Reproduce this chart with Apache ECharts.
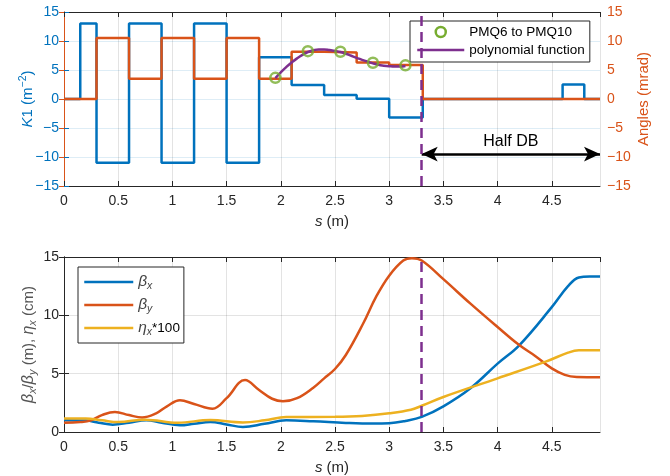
<!doctype html>
<html><head><meta charset="utf-8" />
<style>html,body,#app{margin:0;padding:0;width:670px;height:476px;background:#fff}</style>
</head><body><div id="app"></div>
<script src="https://cdn.jsdelivr.net/npm/echarts@6/dist/echarts.min.js"></script>
<script>
// s range of both panels (m)
const sMax = 4.945;

// top panel: quadrupole strengths K1 (stairs, value holds from edge i to edge i+1)
const k1Edges  = [0, 0.15, 0.3, 0.6, 0.9, 1.2, 1.5, 1.8, 2.1, 2.4, 2.7, 3.0, 3.31, 4.6, 4.8, sMax];
const k1Values = [0, 13, -11, 13, -11, 13, -11, 7.2, 2.4, 0.7, 0.05, -3.2, 0, 2.5, 0];

// top panel: bending angles (mrad, stairs)
const angEdges  = [0, 0.3, 0.6, 0.9, 1.2, 1.5, 1.8, 2.1, 2.4, 2.7, 3.0, 3.31, sMax];
const angValues = [0, 10.5, 3.5, 10.5, 3.5, 10.5, 3.5, 8.15, 8.0, 6.3, 5.85, 0];

// PMQ6..PMQ10 markers
const pmqS = [1.95, 2.25, 2.55, 2.85, 3.15];
const pmqAngles = [3.65, 8.25, 8.15, 6.25, 5.8];

// polynomial fit
const polyS = [1.95, 2.0, 2.05, 2.1, 2.15, 2.2, 2.25, 2.3, 2.35, 2.4, 2.45, 2.5, 2.55, 2.6, 2.65, 2.7, 2.75, 2.8, 2.85, 2.9, 2.95, 3.0, 3.05, 3.1, 3.15];
const polyV = [3.6, 4.6, 5.5, 6.3, 7.0, 7.6, 8.1, 8.4, 8.55, 8.55, 8.45, 8.3, 8.1, 7.8, 7.45, 7.1, 6.75, 6.45, 6.15, 5.9, 5.75, 5.65, 5.6, 5.6, 5.7];

// bottom panel: optics
const bxS = [0, 0.2, 0.32, 0.45, 0.6, 0.76, 0.9, 1.07, 1.2, 1.35, 1.5, 1.65, 1.85, 2.05, 2.3, 2.6, 2.85, 3.0, 3.15, 3.3, 3.5, 3.75, 4.0, 4.2, 4.5, 4.65, 4.75, 4.85, sMax];
const bxV = [1.0, 0.98, 0.8, 0.63, 0.8, 1.0, 0.8, 0.57, 0.7, 0.86, 0.65, 0.43, 0.7, 1.0, 0.92, 0.78, 0.72, 0.75, 0.95, 1.29, 2.2, 3.75, 5.86, 7.43, 10.7, 12.5, 13.25, 13.33, 13.33];

const byS = [0, 0.15, 0.25, 0.35, 0.47, 0.6, 0.72, 0.85, 0.95, 1.07, 1.2, 1.37, 1.5, 1.67, 1.8, 1.92, 2.02, 2.15, 2.3, 2.4, 2.5, 2.6, 2.76, 2.88, 3.0, 3.13, 3.21, 3.3, 3.5, 3.75, 4.0, 4.2, 4.35, 4.5, 4.62, 4.73, sMax];
const byV = [0.8, 0.85, 1.0, 1.45, 1.72, 1.45, 1.25, 1.6, 2.2, 2.72, 2.4, 2.0, 2.9, 4.45, 3.6, 2.85, 2.63, 2.9, 3.8, 4.6, 5.4, 6.6, 9.3, 11.6, 13.4, 14.7, 14.9, 14.7, 13.1, 11.0, 9.0, 7.45, 6.5, 5.45, 4.9, 4.72, 4.7];

const etaS = [0, 0.2, 0.35, 0.5, 0.75, 1.05, 1.35, 1.65, 1.85, 2.05, 2.5, 2.75, 3.0, 3.2, 3.3, 3.5, 4.0, 4.45, 4.65, 4.75, sMax];
const etaV = [1.15, 1.15, 1.0, 0.85, 1.06, 0.8, 1.02, 0.82, 1.0, 1.28, 1.3, 1.38, 1.6, 1.9, 2.25, 3.0, 4.6, 6.05, 6.8, 7.0, 7.0];

// markers
const dbStart = 3.3;
const arrowAngle = -9.5;

const blue = '#0072BD', orange = '#D95319', yellow = '#EDB120', purple = '#7E2F8E', green = '#77AC30';
const dark = '#262626';
const font = 'Liberation Sans, Arial, Helvetica, sans-serif';

const minus = v => (v < 0 ? '\u2212' + Math.abs(v) : String(v));
const stairs = (edges, vals) => edges.map((e, i) => [e, vals[Math.min(i, vals.length - 1)]]);
const pairs = (xs, ys) => xs.map((x, i) => [x, ys[i]]);

function xAx(grid, pos) {
  const bottom = pos === 'bottom';
  return {
    type: 'value', gridIndex: grid, position: pos, min: 0, max: sMax, interval: 0.5,
    axisLine: { show: true, onZero: false, lineStyle: { color: dark, width: 1 } },
    axisTick: { show: true, inside: true, length: 5, lineStyle: { color: dark } },
    axisLabel: { show: bottom, color: dark, fontSize: 14, margin: 8, showMaxLabel: false, fontFamily: font },
    splitLine: { show: bottom, lineStyle: { color: 'rgba(38,38,38,0.13)' } },
    name: bottom ? '{i|s} (m)' : '', nameLocation: 'middle', nameGap: 28, nameMoveOverlap: false,
    nameTextStyle: { color: dark, fontSize: 15, fontFamily: font,
      rich: { i: { fontStyle: 'italic', fontSize: 15, color: dark, fontFamily: font } } }
  };
}

const chart = echarts.init(document.getElementById('app'));
chart.setOption({
  animation: false,
  backgroundColor: '#fff',
  textStyle: { fontFamily: font },
  grid: [
    { left: 64, right: 70, top: 12, height: 174 },
    { left: 64, right: 70, top: 257, height: 175 }
  ],
  xAxis: [xAx(0, 'bottom'), xAx(0, 'top'), xAx(1, 'bottom'), xAx(1, 'top')],
  yAxis: [
    { type: 'value', gridIndex: 0, position: 'left', min: -15, max: 15, interval: 5,
      axisLine: { show: true, lineStyle: { color: blue } },
      axisTick: { show: true, inside: true, length: 5, lineStyle: { color: blue } },
      axisLabel: { color: blue, fontSize: 14, margin: 5, formatter: minus },
      splitLine: { show: true, lineStyle: { color: 'rgba(0,114,189,0.13)' } },
      name: '{i|K}1 (m{sup|\u22122})', nameLocation: 'middle', nameRotate: 90, nameGap: 26, nameMoveOverlap: false,
      nameTextStyle: { color: blue, fontSize: 15,
        rich: { i: { fontStyle: 'italic', fontSize: 15, color: blue, fontFamily: font },
                sup: { fontSize: 10.5, color: blue, fontFamily: font, padding: [0, 0, 9, 0] } } } },
    { type: 'value', gridIndex: 0, position: 'right', min: -15, max: 15, interval: 5,
      axisLine: { show: true, lineStyle: { color: orange } },
      axisTick: { show: true, inside: true, length: 5, lineStyle: { color: orange } },
      axisLabel: { color: orange, fontSize: 14, margin: 7, formatter: minus },
      splitLine: { show: false },
      name: 'Angles (mrad)', nameLocation: 'middle', nameRotate: 90, nameGap: 36, nameMoveOverlap: false,
      nameTextStyle: { color: orange, fontSize: 15 } },
    { type: 'value', gridIndex: 1, position: 'left', min: 0, max: 15, interval: 5,
      axisLine: { show: true, lineStyle: { color: dark } },
      axisTick: { show: true, inside: true, length: 5, lineStyle: { color: dark } },
      axisLabel: { color: dark, fontSize: 14, margin: 5 },
      splitLine: { show: true, lineStyle: { color: 'rgba(38,38,38,0.13)' } },
      name: '{g|\u03b2}{sub|x}{n|/}{g|\u03b2}{sub|y}{n| (m), }{g|\u03b7}{sub|x}{n| (cm)}',
      nameLocation: 'middle', nameRotate: 90, nameGap: 26, nameMoveOverlap: false,
      nameTextStyle: { color: '#555', fontSize: 15,
        rich: { g: { fontStyle: 'italic', fontSize: 16, color: '#555', fontFamily: font },
                n: { fontSize: 15, color: '#555', fontFamily: font },
                sub: { fontStyle: 'italic', fontSize: 11, color: '#555', fontFamily: font, padding: [8, 0, 0, 0] } } } },
    { type: 'value', gridIndex: 1, position: 'right', min: 0, max: 15, interval: 5,
      axisLine: { show: true, lineStyle: { color: dark } },
      axisTick: { show: true, inside: true, length: 5, lineStyle: { color: dark } },
      axisLabel: { show: false }, splitLine: { show: false } }
  ],
  legend: [
    { data: [{ name: 'PMQ6 to PMQ10', icon: 'circle', itemStyle: { color: 'transparent', borderColor: green, borderWidth: 2.5, opacity: 1 } },
             { name: 'polynomial function', itemStyle: { opacity: 0 } }],
      left: 410, top: 21, orient: 'vertical', itemWidth: 47, itemHeight: 10, itemGap: 4,
      padding: [4, 5, 5, 6], backgroundColor: '#fff', borderColor: dark, borderWidth: 1, borderRadius: 0,
      lineStyle: { width: 2.5 },
      textStyle: { color: '#000', fontSize: 13.5, lineHeight: 14 }, selectedMode: false },
    { data: ['bx', 'by', 'eta'],
      left: 78, top: 267, orient: 'vertical', itemWidth: 49, itemHeight: 14, itemGap: 3,
      itemStyle: { opacity: 0 }, lineStyle: { width: 2.5 },
      padding: [5, 4, 5, 5], backgroundColor: '#fff', borderColor: dark, borderWidth: 1, borderRadius: 0,
      formatter: n => ({ bx: '{g|\u03b2}{sub|x}', by: '{g|\u03b2}{sub|y}', eta: '{g|\u03b7}{sub|x}{n|*100}' })[n],
      textStyle: { color: '#000', fontSize: 13.5, lineHeight: 20,
        rich: { g: { fontStyle: 'italic', fontSize: 15.5, color: '#444', fontFamily: font, lineHeight: 20 },
                n: { fontSize: 13.5, color: '#000', fontFamily: font, lineHeight: 20 },
                sub: { fontStyle: 'italic', fontSize: 10.5, color: '#444', fontFamily: font, lineHeight: 20, padding: [8, 0, 0, 0] } } },
      selectedMode: false }
  ],
  series: [
    { name: 'K1', type: 'line', xAxisIndex: 0, yAxisIndex: 0, step: 'end', symbol: 'none',
      data: stairs(k1Edges, k1Values), lineStyle: { color: blue, width: 2.5 }, itemStyle: { color: blue } },
    { name: 'Angles', type: 'line', xAxisIndex: 0, yAxisIndex: 1, step: 'end', symbol: 'none',
      data: stairs(angEdges, angValues), lineStyle: { color: orange, width: 2.5 }, itemStyle: { color: orange },
      markLine: { silent: true, symbol: ['arrow', 'arrow'], symbolSize: [11, 16],
        lineStyle: { color: '#000', width: 2.5, type: 'solid' },
        label: { show: true, position: 'middle', formatter: 'Half DB', color: '#000', fontSize: 16, distance: 5 },
        data: [[{ coord: [dbStart, arrowAngle] }, { coord: [sMax, arrowAngle] }]] } },
    { name: 'PMQ6 to PMQ10', type: 'scatter', xAxisIndex: 0, yAxisIndex: 1, symbol: 'circle', symbolSize: 10,
      data: pairs(pmqS, pmqAngles), itemStyle: { color: 'transparent', borderColor: green, borderWidth: 2.5 }, z: 4 },
    { name: 'polynomial function', type: 'line', xAxisIndex: 0, yAxisIndex: 1, smooth: true, symbol: 'none',
      data: pairs(polyS, polyV), lineStyle: { color: purple, width: 2.5 }, itemStyle: { color: purple }, z: 3,
      markLine: { silent: true, symbol: 'none', label: { show: false },
        lineStyle: { color: purple, width: 2.5, type: [10, 6] }, data: [{ xAxis: dbStart }] } },
    { name: 'bx', type: 'line', xAxisIndex: 2, yAxisIndex: 2, smooth: 0.4, symbol: 'none',
      data: pairs(bxS, bxV), lineStyle: { color: blue, width: 2.5 }, itemStyle: { color: blue } },
    { name: 'by', type: 'line', xAxisIndex: 2, yAxisIndex: 2, smooth: 0.4, symbol: 'none',
      data: pairs(byS, byV), lineStyle: { color: orange, width: 2.5 }, itemStyle: { color: orange } },
    { name: 'eta', type: 'line', xAxisIndex: 2, yAxisIndex: 2, smooth: 0.4, symbol: 'none',
      data: pairs(etaS, etaV), lineStyle: { color: yellow, width: 2.5 }, itemStyle: { color: yellow },
      markLine: { silent: true, symbol: 'none', label: { show: false },
        lineStyle: { color: purple, width: 2.5, type: [10, 6] }, data: [{ xAxis: dbStart }] } }
  ]
});
</script></body></html>
